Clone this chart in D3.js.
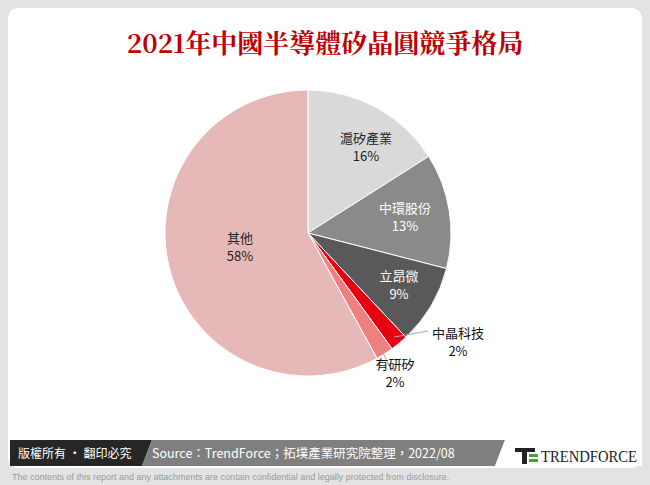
<!DOCTYPE html>
<html><head><meta charset="utf-8">
<script src="https://cdn.jsdelivr.net/npm/d3@7"></script>
<style>body{margin:0;background:#fff}svg{display:block}</style>
</head><body><svg id="c" width="650" height="485"></svg>
<script>
const names = ["滬矽產業","中環股份","立昂微","中晶科技","有研矽","其他"];
const shares = [16,13,9,2,2,58];
const colors = ["#d9d9d9","#8a8a8a","#595959","#e60012","#f08080","#e6b8b8"];
const textColors = ["#222","#fff","#fff","#111","#111","#222"];

const svg = d3.select("#c");
const font = "'Noto Sans CJK TC','Noto Sans',sans-serif";

// frame
svg.append("rect").attr("width",650).attr("height",485).attr("fill","#e3e3e3");
svg.append("rect").attr("x",8).attr("y",8).attr("width",634).attr("height",460).attr("rx",10).attr("fill","#fff");

svg.append("text").attr("x",325).attr("y",53).attr("text-anchor","middle")
  .attr("font-family","'Noto Serif CJK TC','Noto Sans CJK TC',serif").attr("font-weight","bold")
  .attr("font-size",26).attr("fill","#c00000").text("2021年中國半導體矽晶圓競爭格局");

// pie
const cx = 308, cy = 233, r = 143;
const pie = d3.pie().sort(null).value(d => d)(shares);
const arc = d3.arc().innerRadius(0).outerRadius(r);
const g = svg.append("g").attr("transform",`translate(${cx},${cy})`);
g.selectAll("path").data(pie).enter().append("path")
  .attr("d",arc).attr("fill",(d,i)=>colors[i]).attr("stroke","#fff").attr("stroke-width",1);

// inside labels
const inner = {0:[58,-90],1:[97,-20],2:[91,48],5:[-68,10]};
Object.entries(inner).forEach(([i,p])=>{
  const t = g.append("text").attr("text-anchor","middle").attr("font-family",font)
    .attr("font-size",13).attr("fill",textColors[i]);
  t.append("tspan").attr("x",p[0]).attr("y",p[1]).text(names[i]);
  t.append("tspan").attr("x",p[0]).attr("y",p[1]+18).text(shares[i]+"%");
});

// outside labels with leaders
function outside(i, lx, ly, path){
  const a = (pie[i].startAngle + pie[i].endAngle)/2;
  const px = Math.sin(a)*(r-8), py = -Math.cos(a)*(r-8);
  g.append("path").attr("d",d3.line()([[px,py],...path])).attr("fill","none")
    .attr("stroke","#a6a6a6").attr("stroke-width",1);
  const t = g.append("text").attr("text-anchor","middle").attr("font-family",font)
    .attr("font-size",13).attr("fill","#111");
  t.append("tspan").attr("x",lx).attr("y",ly).text(names[i]);
  t.append("tspan").attr("x",lx).attr("y",ly+18).text(shares[i]+"%");
}
outside(3,150,105,[[120,98]]);
outside(4,87,136,[[83,137],[88,137]]);

// footer
svg.append("path").attr("d","M10,440 H152 L142,466 H10 Z").attr("fill","#262626");
svg.append("text").attr("x",18).attr("y",458).attr("font-family",font).attr("font-size",12)
  .attr("fill","#fff").text("版權所有 · 翻印必究");
svg.append("path").attr("d","M152,440 H505 L495,466 H142 Z").attr("fill","#7f7f7f");
svg.append("text").attr("x",152).attr("y",458).attr("font-family",font).attr("font-size",12.5)
  .attr("fill","#fff").text("Source：TrendForce；拓墣產業研究院整理，2022/08");
svg.append("path").attr("d","M505,440 H642 V466 H495 Z").attr("fill","#fff");
svg.append("rect").attr("x",515).attr("y",448).attr("width",20).attr("height",4).attr("fill","#222");
svg.append("rect").attr("x",522).attr("y",452).attr("width",5).attr("height",12).attr("fill","#222");
svg.append("rect").attr("x",529).attr("y",454).attr("width",9).attr("height",3).attr("fill","#3aa935");
svg.append("rect").attr("x",529).attr("y",459).attr("width",9).attr("height",3).attr("fill","#3aa935");
svg.append("text").attr("x",541).attr("y",462).attr("font-family","'Liberation Serif',serif")
  .attr("font-size",16).attr("fill","#222").attr("textLength",96).attr("lengthAdjust","spacingAndGlyphs")
  .text("TRENDFORCE");
svg.append("text").attr("x",12).attr("y",480).attr("font-family","'Liberation Sans',sans-serif")
  .attr("font-size",9).attr("fill","#999")
  .text("The contents of this report and any attachments are contain confidential and legally protected from disclosure.");
</script></body></html>
